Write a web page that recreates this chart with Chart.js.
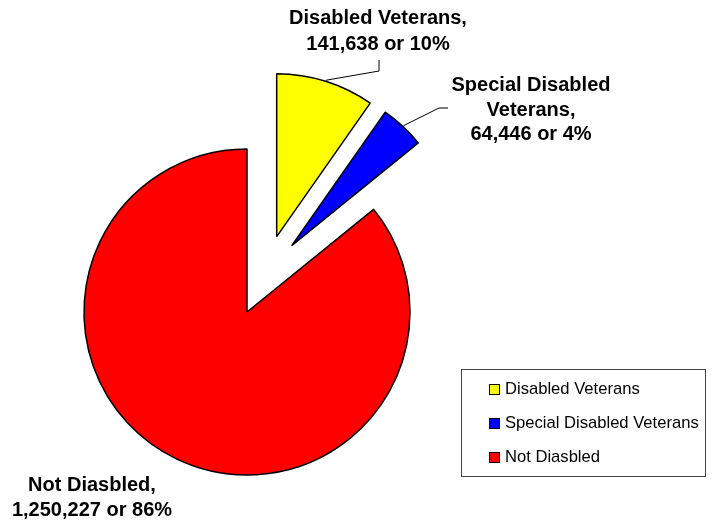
<!DOCTYPE html>
<html lang="en">
<head>
  <meta charset="UTF-8">
  <title>Veterans by Disability Status</title>
  <script src="https://cdn.jsdelivr.net/npm/chart.js"></script>
  <style>
    body { margin: 0; background: #fff; font-family: "Liberation Sans", Arial, sans-serif; }
    .wrap { position: relative; width: 715px; height: 525px; }
    #legendBox {
      position: absolute; left: 461px; top: 369px; width: 245px; height: 108px;
      box-sizing: border-box; border: 1px solid #444; padding: 2px 0 0 27px;
    }
    .item { height: 34px; display: flex; align-items: center; font-size: 16.6px; color: #000; }
    .swatch { width: 9px; height: 9px; border: 1px solid #000; margin-right: 5px; }
  </style>
</head>
<body>
  <div class="wrap">
    <canvas id="pieChart" width="715" height="525"></canvas>
    <div id="legendBox"></div>
  </div>

  <script>
    // data
    const categories = ['Disabled Veterans', 'Special Disabled Veterans', 'Not Diasbled'];
    const counts = [141638, 64446, 1250227];

    const sliceColors = ['#FFFF00', '#0000FF', '#FF0000'];
    const total = counts.reduce((a, b) => a + b, 0);

    // pulls exploded slices away from the centre after every layout pass
    const explodePlugin = {
      id: 'explode',
      afterDatasetUpdate(chart, args, opts) {
        args.meta.data.forEach((arc, i) => {
          const d = (opts.distance || [])[i] || 0;
          if (!d) return;
          const tilt = ((opts.tilt || [])[i] || 0) * Math.PI / 180;
          const mid = (arc.startAngle + arc.endAngle) / 2 + tilt;
          arc.x += Math.cos(mid) * d;
          arc.y += Math.sin(mid) * d;
        });
      }
    };

    // outside labels with leader lines
    const sliceLabels = {
      id: 'sliceLabels',
      afterDatasetsDraw(chart, args, opts) {
        const ctx = chart.ctx;
        const arcs = chart.getDatasetMeta(0).data;
        ctx.save();
        ctx.font = 'bold 20px "Liberation Sans", Arial, sans-serif';
        ctx.fillStyle = '#000';
        ctx.textAlign = 'center';
        ctx.textBaseline = 'alphabetic';
        arcs.forEach((arc, i) => {
          const p = opts.place[i];
          const pct = Math.round(counts[i] / total * 100);
          const lines = wrapText(ctx, categories[i] + ',', p.maxWidth);
          lines.push(counts[i].toLocaleString('en-US') + ' or ' + pct + '%');
          lines.forEach((t, k) => ctx.fillText(t, p.x, p.y + k * p.lh));

          if (p.elbow) {
            const mid = (arc.startAngle + arc.endAngle) / 2;
            const r = arc.outerRadius + 1;
            ctx.beginPath();
            ctx.moveTo(arc.x + Math.cos(mid) * r, arc.y + Math.sin(mid) * r);
            ctx.lineTo(p.elbow[0], p.elbow[1]);
            ctx.lineTo(p.end[0], p.end[1]);
            ctx.lineWidth = 1;
            ctx.strokeStyle = '#000';
            ctx.stroke();
          }
        });
        ctx.restore();
      }
    };

    function wrapText(ctx, text, maxWidth) {
      const words = text.split(' ');
      const out = [];
      let cur = '';
      words.forEach(w => {
        const test = cur ? cur + ' ' + w : w;
        if (cur && ctx.measureText(test).width > maxWidth) {
          out.push(cur);
          cur = w;
        } else {
          cur = test;
        }
      });
      if (cur) out.push(cur);
      return out;
    }

    new Chart(document.getElementById('pieChart'), {
      type: 'pie',
      data: {
        labels: categories,
        datasets: [{
          data: counts,
          backgroundColor: sliceColors,
          borderColor: '#000',
          borderWidth: 1.5
        }]
      },
      options: {
        responsive: false,
        animation: false,
        radius: 163,
        layout: { padding: { left: 0, right: 221, top: 99, bottom: 0 } },
        plugins: {
          legend: { display: false },
          tooltip: { enabled: false },
          explode: { distance: [81, 80, 0], tilt: [4, -9, 0] },
          sliceLabels: {
            place: [
              { x: 378, y: 24, lh: 25.5, maxWidth: 200, elbow: [379, 71], end: [379, 60] },
              { x: 531, y: 91, lh: 24.5, maxWidth: 170, elbow: [439, 108], end: [448, 108] },
              { x: 92, y: 491, lh: 25, maxWidth: 200 }
            ]
          }
        }
      },
      plugins: [explodePlugin, sliceLabels]
    });

    // legend box
    const legendBox = document.getElementById('legendBox');
    categories.forEach((name, i) => {
      const row = document.createElement('div');
      row.className = 'item';
      const sw = document.createElement('span');
      sw.className = 'swatch';
      sw.style.background = sliceColors[i];
      row.appendChild(sw);
      row.appendChild(document.createTextNode(name));
      legendBox.appendChild(row);
    });
  </script>
</body>
</html>
